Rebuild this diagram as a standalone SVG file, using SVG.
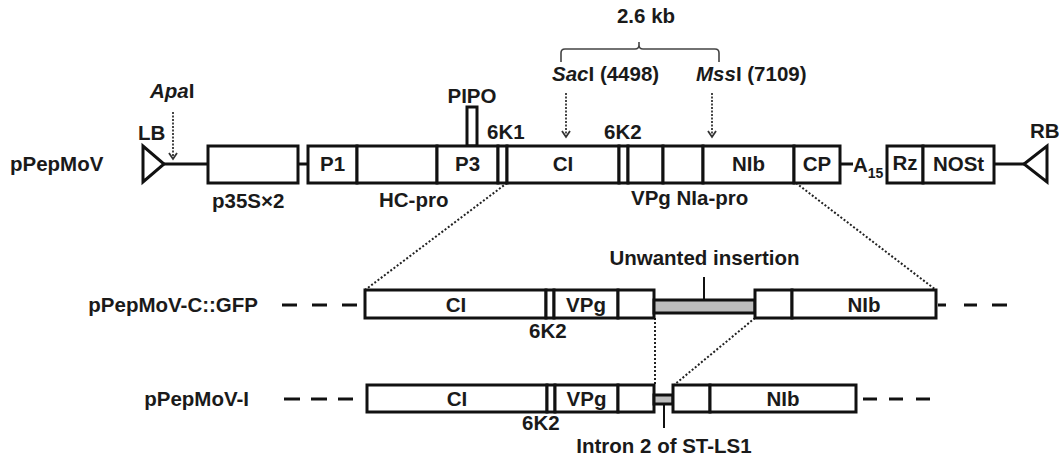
<svg xmlns="http://www.w3.org/2000/svg" width="1059" height="459" viewBox="0 0 1059 459">
<style>
text{font-family:"Liberation Sans",Arial,sans-serif;font-weight:bold;font-size:20.5px;fill:#1a1a1a}
.m{text-anchor:middle}
.e{text-anchor:end}
.b{fill:#fff;stroke:#111;stroke-width:3}
.g{fill:#bdbdbd;stroke:#111;stroke-width:3}
.ln{stroke:#111;stroke-width:3;fill:none}
.dt{stroke:#222;stroke-width:2;fill:none;stroke-dasharray:2 2}
.ar{stroke:#333;stroke-width:1.8;fill:none;stroke-dasharray:2 1.5}
.br{stroke:#444;stroke-width:1.6;fill:none}
</style>
<rect width="1059" height="459" fill="#fff"/>

<g id="connectors">
  <line class="ln" x1="164" y1="164" x2="208" y2="164"/>
  <line class="ln" x1="298" y1="164" x2="308" y2="164"/>
  <line class="ln" x1="840" y1="164" x2="853" y2="164"/>
  <line class="ln" x1="994" y1="164" x2="1024" y2="164"/>
  <line class="ar" x1="173" y1="112" x2="173" y2="159"/>
  <polyline class="ar" points="169,153 173,159 177,153" style="stroke-dasharray:none"/>
  <line class="ar" x1="566" y1="93" x2="566" y2="137"/>
  <polyline class="ar" points="562,131 566,137 570,131" style="stroke-dasharray:none"/>
  <line class="ar" x1="712" y1="93" x2="712" y2="137"/>
  <polyline class="ar" points="708,131 712,137 716,131" style="stroke-dasharray:none"/>
  <path class="br" d="M561,62 L561,53 Q561,49 565,49 L635,49 Q639,49 639,45 L639,42 L639,45 Q639,49 643,49 L715,49 Q719,49 719,53 L719,62"/>
  <line class="dt" x1="507" y1="183" x2="365" y2="290"/>
  <line class="dt" x1="796" y1="183" x2="936" y2="290"/>
  <line class="dt" x1="655" y1="318" x2="655" y2="385"/>
  <line class="dt" x1="755" y1="318" x2="674" y2="385"/>
  <line class="ln" x1="282" y1="305" x2="297" y2="305"/>
  <line class="ln" x1="312" y1="305" x2="327" y2="305"/>
  <line class="ln" x1="342" y1="305" x2="357" y2="305"/>
  <line class="ln" x1="938" y1="305" x2="946" y2="305"/>
  <line class="ln" x1="964" y1="305" x2="977" y2="305"/>
  <line class="ln" x1="992" y1="305" x2="1007" y2="305"/>
  <line class="ln" x1="284" y1="399" x2="300" y2="399"/>
  <line class="ln" x1="311" y1="399" x2="327" y2="399"/>
  <line class="ln" x1="338" y1="399" x2="353" y2="399"/>
  <line class="ln" x1="863" y1="399" x2="877" y2="399"/>
  <line class="ln" x1="889" y1="399" x2="903" y2="399"/>
  <line class="ln" x1="916" y1="399" x2="930" y2="399"/>
  <line class="ln" x1="704" y1="277" x2="704" y2="300" style="stroke-width:2"/>
  <line class="ln" x1="664" y1="404" x2="664" y2="428" style="stroke-width:2"/>
</g>

<g id="LB">
  <polygon class="b" points="143,146 143,182 164,164" style="fill:none"/>
  <text x="138" y="140">LB</text>
</g>
<g id="ApaI"><text x="150" y="98"><tspan font-style="italic">Apa</tspan>I</text></g>
<g id="p35S"><rect class="b" x="208" y="146" width="90" height="37"/><text x="212" y="208">p35S×2</text></g>
<g id="P1"><rect class="b" x="308" y="146" width="49" height="37"/><text class="m" x="332.5" y="171">P1</text></g>
<g id="HC-pro"><rect class="b" x="357" y="146" width="80" height="37"/><text x="379" y="207">HC-pro</text></g>
<g id="PIPO"><rect class="b" x="467" y="107" width="10" height="39"/><text class="m" x="472" y="103">PIPO</text></g>
<g id="P3"><rect class="b" x="437" y="146" width="61" height="37"/><text class="m" x="467.5" y="171">P3</text></g>
<g id="6K1"><rect class="b" x="498" y="146" width="9" height="37"/><text x="487" y="139">6K1</text></g>
<g id="CI"><rect class="b" x="507" y="146" width="112" height="37"/><text class="m" x="563" y="171">CI</text></g>
<g id="SacI"><text x="552" y="81"><tspan font-style="italic">Sac</tspan>I (4498)</text></g>
<g id="kb"><text class="m" x="646" y="23">2.6 kb</text></g>
<g id="6K2"><rect class="b" x="619" y="146" width="9" height="37"/><text x="604" y="139">6K2</text></g>
<g id="VPg"><rect class="b" x="628" y="146" width="35" height="37"/><text x="631" y="205">VPg NIa-pro</text></g>
<g id="NIa-pro"><rect class="b" x="663" y="146" width="40" height="37"/></g>
<g id="NIb"><rect class="b" x="703" y="146" width="91" height="37"/><text class="m" x="748.5" y="171">NIb</text></g>
<g id="MssI"><text x="696" y="81"><tspan font-style="italic">Mss</tspan>I (7109)</text></g>
<g id="CP"><rect class="b" x="794" y="146" width="46" height="37"/><text class="m" x="817" y="171">CP</text></g>
<g id="A15"><text x="853" y="172">A<tspan font-size="14" dy="6">15</tspan></text></g>
<g id="Rz"><rect class="b" x="887" y="146" width="36" height="37"/><text class="m" x="905" y="170" font-size="16">Rz</text></g>
<g id="NOSt"><rect class="b" x="923" y="146" width="71" height="37"/><text class="m" x="958.5" y="171">NOSt</text></g>
<g id="RB">
  <polygon class="b" points="1047,146 1047,182 1024,164" style="fill:none"/>
  <text x="1030" y="138">RB</text>
</g>
<g id="label-pPepMoV"><text x="10" y="171">pPepMoV</text></g>

<g id="label-CGFP"><text class="e" x="258" y="312">pPepMoV-C::GFP</text></g>
<g id="r1-CI"><rect class="b" x="365" y="290" width="181" height="28"/><text class="m" x="456" y="312">CI</text></g>
<g id="r1-6K2"><rect class="b" x="546" y="290" width="8" height="28"/><text x="529" y="338">6K2</text></g>
<g id="r1-VPg"><rect class="b" x="554" y="290" width="64" height="28"/><text class="m" x="586" y="312">VPg</text></g>
<g id="r1-NIa"><rect class="b" x="618" y="290" width="36" height="28"/></g>
<g id="r1-insert"><rect class="g" x="654" y="300" width="101" height="13"/><text class="m" x="704.5" y="265">Unwanted insertion</text></g>
<g id="r1-NIa2"><rect class="b" x="755" y="290" width="37" height="28"/></g>
<g id="r1-NIb"><rect class="b" x="792" y="290" width="144" height="28"/><text class="m" x="864" y="312">NIb</text></g>

<g id="label-I"><text class="e" x="249" y="406">pPepMoV-I</text></g>
<g id="r2-CI"><rect class="b" x="367" y="385" width="180" height="27"/><text class="m" x="457" y="406">CI</text></g>
<g id="r2-6K2"><rect class="b" x="547" y="385" width="8" height="27"/><text x="522" y="430">6K2</text></g>
<g id="r2-VPg"><rect class="b" x="555" y="385" width="63" height="27"/><text class="m" x="586.5" y="406">VPg</text></g>
<g id="r2-NIa"><rect class="b" x="618" y="385" width="36" height="27"/></g>
<g id="r2-intron"><rect class="g" x="654" y="395" width="19" height="9"/><text class="m" x="664" y="453">Intron 2 of ST-LS1</text></g>
<g id="r2-NIa2"><rect class="b" x="673" y="385" width="37" height="27"/></g>
<g id="r2-NIb"><rect class="b" x="710" y="385" width="146" height="27"/><text class="m" x="783" y="406">NIb</text></g>
</svg>
